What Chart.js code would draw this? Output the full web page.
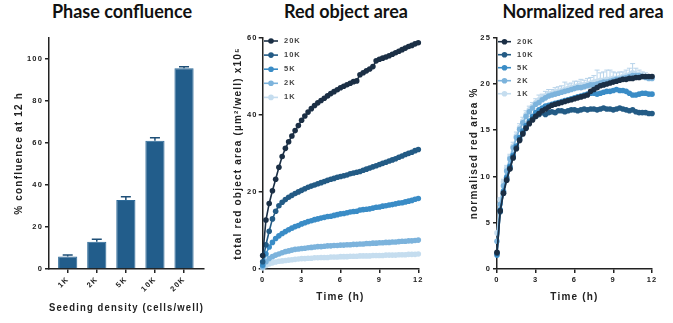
<!DOCTYPE html>
<html><head><meta charset="utf-8">
<script src="https://cdn.jsdelivr.net/npm/chart.js@4/dist/chart.umd.min.js"></script>
<style>
html,body{margin:0;padding:0;background:#fff;}
body{width:673px;height:323px;position:relative;overflow:hidden;}
canvas{position:absolute;top:0;}
.t{position:absolute;top:2px;width:220px;text-align:center;font-family:Lato,'Open Sans',sans-serif;font-weight:bold;font-size:18px;line-height:18px;color:#111;white-space:nowrap;}
</style></head><body>
<div class="t" style="left:12px">Phase confluence</div>
<div class="t" style="left:236px">Red object area</div>
<div class="t" style="left:473px">Normalized red area</div>
<canvas id="c1" width="225" height="323" style="left:0"></canvas>
<canvas id="c2" width="225" height="323" style="left:225px"></canvas>
<canvas id="c3" width="225" height="323" style="left:448px"></canvas>
<script>
// ---------- data ----------
const densities = ['1K','2K','5K','10K','20K'];
const confluence = [6.0, 13.0, 32.8, 61.0, 95.5];
const confluenceErr = [0.6, 1.1, 1.6, 1.4, 0.7];

const seriesLabels = ['20K','10K','5K','2K','1K'];
const times = [0,0.25,0.5,0.75,1,1.25,1.5,1.75,2,2.25,2.5,2.75,3,3.25,3.5,3.75,4,4.25,4.5,4.75,5,5.25,5.5,5.75,6,6.25,6.5,6.75,7,7.25,7.5,7.75,8,8.25,8.5,8.75,9,9.25,9.5,9.75,10,10.25,10.5,10.75,11,11.25,11.5,11.75,12];

const area20K = [3.5,12.7,17.0,20.3,23.3,26.4,29.2,31.3,33.0,34.5,35.9,37.2,38.6,39.7,40.7,41.6,42.4,43.1,43.7,44.3,44.9,45.5,46.0,46.5,47.0,47.4,47.8,48.2,48.6,48.8,50.4,50.9,51.4,51.9,52.5,54.0,54.4,54.7,55.0,55.3,55.7,56.1,56.5,56.9,57.3,57.7,58.0,58.4,58.7];
const area10K = [1.9,6.3,9.8,13.0,15.0,16.4,17.3,18.0,18.6,19.1,19.6,20.0,20.4,20.8,21.2,21.5,21.8,22.1,22.4,22.7,23.0,23.3,23.5,23.8,24.0,24.2,24.4,24.7,24.9,25.1,25.3,25.6,25.9,26.2,26.5,26.8,27.1,27.4,27.7,28.0,28.3,28.6,29.0,29.3,29.7,30.0,30.3,30.7,31.0];
const area5K = [1.0,3.9,5.7,6.9,7.9,8.6,9.2,9.7,10.2,10.6,11.0,11.3,11.7,12.0,12.3,12.5,12.8,13.0,13.2,13.4,13.6,13.7,13.9,14.1,14.3,14.4,14.6,14.8,14.9,15.0,15.3,15.4,15.5,15.6,15.8,16.0,16.1,16.3,16.4,16.6,16.7,16.9,17.1,17.2,17.4,17.6,17.8,18.1,18.3];
const area2K = [0.6,1.9,2.7,3.2,3.6,3.9,4.2,4.5,4.7,4.9,5.1,5.2,5.3,5.4,5.5,5.6,5.7,5.8,5.8,5.9,6.0,6.0,6.1,6.1,6.2,6.2,6.3,6.3,6.4,6.4,6.5,6.5,6.6,6.6,6.7,6.7,6.8,6.8,6.9,6.9,7.0,7.0,7.1,7.2,7.2,7.3,7.3,7.4,7.5];
const area1K = [0.3,0.9,1.3,1.6,1.8,2.0,2.1,2.2,2.3,2.4,2.5,2.6,2.7,2.7,2.8,2.8,2.9,2.9,3.0,3.0,3.0,3.1,3.1,3.1,3.2,3.2,3.2,3.3,3.3,3.3,3.4,3.4,3.4,3.4,3.5,3.5,3.5,3.5,3.6,3.6,3.6,3.6,3.7,3.7,3.7,3.8,3.8,3.8,3.9];

const norm20K = [1.8,6.3,8.2,9.6,10.8,12.0,13.0,13.9,14.6,15.2,15.7,16.1,16.5,16.8,17.1,17.3,17.5,17.7,17.8,17.9,18.0,18.1,18.2,18.3,18.4,18.5,18.6,18.7,18.8,19.2,19.4,19.6,19.8,19.9,20.0,20.1,20.2,20.3,20.4,20.5,20.5,20.6,20.6,20.7,20.7,20.8,20.8,20.8,20.8];
const norm10K = [1.7,6.2,8.2,9.7,10.9,12.1,13.1,14.0,14.7,15.3,15.8,16.2,16.5,16.7,16.9,16.7,16.9,17.0,16.9,17.1,17.1,17.0,17.1,17.2,17.2,17.1,17.2,17.3,17.2,17.3,17.3,17.2,17.3,17.4,17.3,17.3,17.2,17.3,17.4,17.3,17.2,17.1,17.2,17.0,16.9,16.9,16.9,16.8,16.8];
const norm5K = [1.5,6.4,8.4,9.9,11.1,12.3,13.3,14.2,14.9,15.5,16.0,16.5,16.9,17.2,17.4,17.6,17.7,17.8,17.9,18.0,18.1,18.2,18.3,18.4,18.5,18.6,18.7,18.8,18.9,19.0,19.0,18.9,19.0,19.1,19.2,19.2,19.3,19.4,19.3,19.3,19.2,19.0,18.8,18.8,18.9,19.0,19.0,18.9,18.9];
const norm2K = [3.0,7.0,9.0,10.6,11.9,13.1,14.2,15.1,15.8,16.5,17.0,17.4,17.8,18.0,18.3,18.5,18.7,18.8,18.9,19.0,19.1,19.2,19.3,19.4,19.5,19.6,19.6,19.7,19.8,19.9,19.9,20.0,20.1,20.2,20.2,20.3,20.4,20.5,20.5,20.6,20.7,20.8,20.9,20.9,20.9,20.8,20.7,20.6,20.6];
const norm1K = [3.9,7.5,9.4,10.9,12.1,13.3,14.4,15.3,16.0,16.7,17.2,17.6,18.0,18.3,18.5,18.7,18.9,19.0,19.1,19.2,19.3,19.4,19.5,19.6,19.7,19.8,19.9,19.9,20.0,20.1,20.2,20.3,20.4,20.4,20.5,20.5,20.6,20.6,20.7,20.8,20.9,21.0,21.2,21.1,21.0,20.9,20.8,20.7,20.7];
const norm1KErr = [0,0.2,0.3,0.3,0.3,0.4,0.4,0.4,0.4,0.4,0.4,0.4,0.4,0.5,0.4,0.5,0.5,0.4,0.5,0.5,0.5,0.8,0.5,0.5,0.6,0.5,0.6,0.5,0.6,0.6,0.7,1.2,0.8,0.9,1.0,1.0,0.7,0.6,0.6,0.5,0.6,0.7,1.0,0.6,0.5,0.4,0.4,0.3,0.3];

// ---------- style ----------
const colors = ['#1b2f45','#235b85','#3a8cc6','#7cb3dc','#c5ddef'];
const ink = '#222';
Chart.defaults.font.family = "'Liberation Sans', Arial, sans-serif";
Chart.defaults.font.weight = 'bold';
Chart.defaults.color = ink;

const SPACING = '1.2px';
Chart.register({id:'spacing',
  beforeUpdate(c){ c.ctx.letterSpacing = SPACING; },
  beforeLayout(c){ c.ctx.letterSpacing = SPACING; },
  beforeDraw(c){ c.ctx.letterSpacing = SPACING; }
});

const MARK = 2.8;

const insideLegend = {id:'insideLegend', afterDatasetsDraw(chart, args, o){
  const ctx = chart.ctx, a = chart.chartArea;
  ctx.save();
  ctx.letterSpacing = '1px';
  ctx.font = "bold 7.5px 'Liberation Sans', Arial, sans-serif";
  ctx.textBaseline = 'middle';
  ctx.textAlign = 'left';
  chart.data.datasets.forEach((ds, i) => {
    const y = a.top + o.top + i * o.step;
    ctx.strokeStyle = ds.borderColor; ctx.lineWidth = 1.6;
    ctx.beginPath(); ctx.moveTo(a.left + o.x0, y); ctx.lineTo(a.left + o.x1, y); ctx.stroke();
    ctx.fillStyle = ds.borderColor;
    ctx.beginPath(); ctx.arc(a.left + (o.x0 + o.x1) / 2, y, MARK, 0, Math.PI * 2); ctx.fill();
    ctx.fillStyle = '#444';
    ctx.fillText(ds.label, a.left + o.tx, y);
  });
  ctx.restore();
}};

const barErrors = {id:'barErrors', afterDatasetsDraw(chart){
  const ctx = chart.ctx, y = chart.scales.y;
  const meta = chart.getDatasetMeta(0);
  ctx.save();
  ctx.strokeStyle = '#1e4f77'; ctx.lineWidth = 1.5;
  meta.data.forEach((el, i) => {
    const yTop = y.getPixelForValue(confluence[i] + confluenceErr[i]);
    ctx.beginPath();
    ctx.moveTo(el.x, el.y); ctx.lineTo(el.x, yTop);
    ctx.moveTo(el.x - 5, yTop); ctx.lineTo(el.x + 5, yTop);
    ctx.stroke();
  });
  ctx.restore();
}};

const lineErrors = {id:'lineErrors', beforeDatasetsDraw(chart){
  const ctx = chart.ctx, y = chart.scales.y;
  const meta = chart.getDatasetMeta(4);
  ctx.save();
  ctx.strokeStyle = '#b7d3ea'; ctx.lineWidth = 1;
  meta.data.forEach((pt, i) => {
    if (!norm1KErr[i]) return;
    const yTop = y.getPixelForValue(norm1K[i] + norm1KErr[i]);
    ctx.beginPath();
    ctx.moveTo(pt.x, pt.y); ctx.lineTo(pt.x, yTop);
    ctx.moveTo(pt.x - 2.5, yTop); ctx.lineTo(pt.x + 2.5, yTop);
    ctx.stroke();
  });
  ctx.restore();
}};

function axisLook(){
  return {
    offset:false,
    border:{display:true, color:ink, width:1.5},
    grid:{display:true, offset:false, drawOnChartArea:false, drawTicks:true, tickLength:4, color:ink, lineWidth:1.5}
  };
}
const tickFont = {size:7.5, weight:'bold'};
const titleFont = {size:10, weight:'bold'};

function lineSets(arrays){
  return seriesLabels.map((lab, i) => ({
    label: lab, data: arrays[i],
    borderColor: colors[i], backgroundColor: colors[i], pointBackgroundColor: colors[i],
    pointBorderWidth: 0, pointRadius: MARK, borderWidth: 1.6, tension: 0, clip: false
  }));
}

// ---------- panel 1 ----------
new Chart(document.getElementById('c1'), {
  type: 'bar',
  data: { datasets: [{
    data: confluence.map((v, i) => ({x: i + 1, y: v})),
    backgroundColor: '#225d8b', borderColor: '#2d6a98', borderWidth: 1,
    categoryPercentage: 1, barPercentage: 0.66
  }]},
  options: {
    responsive:false, animation:false, devicePixelRatio:1,
    layout:{padding:{top:37.7, right:21, left:0, bottom:0}},
    plugins:{legend:{display:false}, tooltip:{enabled:false}},
    scales:{
      x:{type:'linear', min:0.357, max:5.687, ...axisLook(),
        afterFit(s){ s.height = 54; },
        afterBuildTicks(s){ s.ticks = densities.map((d, i) => ({value: i + 1})); },
        ticks:{callback:(v) => densities[v - 1], minRotation:45, maxRotation:45, autoSkip:false, font:tickFont, padding:2},
        title:{display:true, text:'Seeding density (cells/well)', font:titleFont, padding:{bottom:9}}
      },
      y:{min:0, max:110, ...axisLook(),
        afterFit(s){ s.width = 49; },
        ticks:{stepSize:20, includeBounds:false, font:tickFont, padding:2},
        title:{display:true, text:'% confluence at 12 h', font:titleFont, padding:{top:13.5}}
      }
    }
  },
  plugins:[barErrors]
});

// ---------- panel 2 ----------
new Chart(document.getElementById('c2'), {
  type: 'line',
  data: { labels: times, datasets: lineSets([area20K, area10K, area5K, area2K, area1K]) },
  options: {
    responsive:false, animation:false, devicePixelRatio:1,
    layout:{padding:{top:37.7, right:31.7, left:0, bottom:0}},
    plugins:{legend:{display:false}, tooltip:{enabled:false},
      insideLegend:{x0:1.3, x1:15.3, tx:21.3, top:3.3, step:14.1}},
    scales:{
      x:{type:'linear', min:0, max:12, ...axisLook(),
        afterFit(s){ s.height = 54; },
        ticks:{stepSize:3, font:tickFont, padding:2},
        title:{display:true, text:'Time (h)', font:titleFont, padding:{bottom:20}}
      },
      y:{min:0, max:60, ...axisLook(),
        afterFit(s){ s.width = 37.7; },
        ticks:{stepSize:20, font:tickFont, padding:1},
        title:{display:true, text:'total red object area (µm²/well) x10⁵', font:titleFont, padding:{top:7.5}}
      }
    }
  },
  plugins:[insideLegend]
});

// ---------- panel 3 ----------
new Chart(document.getElementById('c3'), {
  type: 'line',
  data: { labels: times, datasets: lineSets([norm20K, norm10K, norm5K, norm2K, norm1K]) },
  options: {
    responsive:false, animation:false, devicePixelRatio:1,
    layout:{padding:{top:37.7, right:21, left:0, bottom:0}},
    plugins:{legend:{display:false}, tooltip:{enabled:false},
      insideLegend:{x0:1, x1:14, tx:20, top:4, step:13}},
    scales:{
      x:{type:'linear', min:0, max:12, ...axisLook(),
        afterFit(s){ s.height = 54; },
        ticks:{stepSize:3, font:tickFont, padding:2},
        title:{display:true, text:'Time (h)', font:titleFont, padding:{bottom:20}}
      },
      y:{min:0, max:25, ...axisLook(),
        afterFit(s){ s.width = 49; },
        ticks:{stepSize:5, font:tickFont, padding:2},
        title:{display:true, text:'normalised red area %', font:titleFont, padding:{top:20}}
      }
    }
  },
  plugins:[lineErrors, insideLegend]
});
</script>
</body></html>
